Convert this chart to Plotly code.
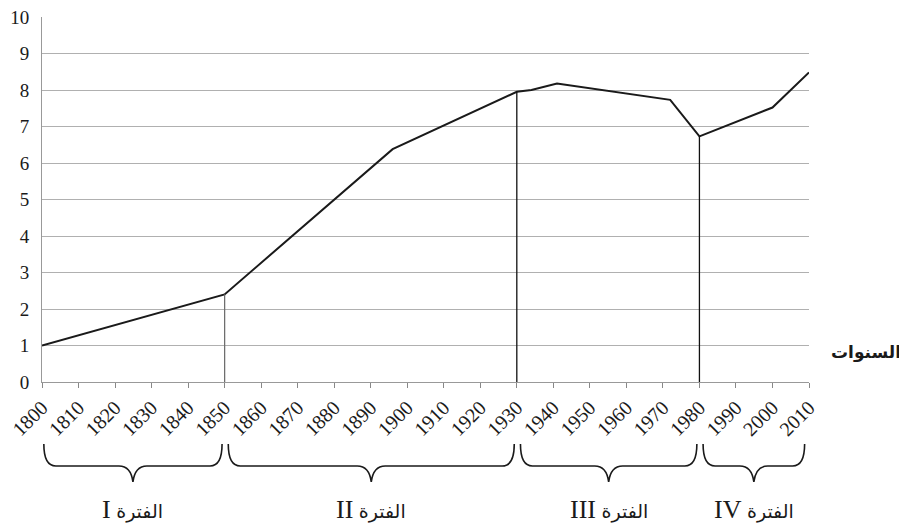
import plotly.graph_objects as go

# ---- data ----
years = [1800, 1850, 1896, 1930, 1934, 1941, 1972, 1980, 2000, 2010]
values = [1.0, 2.4, 6.38, 7.95, 8.0, 8.18, 7.73, 6.73, 7.52, 8.48]

tick_years = list(range(1800, 2011, 10))
tick_labels = [str(y) for y in tick_years]

y_ticks = list(range(0, 11))

boundary_years = [1850, 1930, 1980]
boundary_colors = ["#6e6e6e", "#111111", "#111111"]

periods = [(1800, 1850), (1850, 1930), (1930, 1980), (1980, 2010)]
period_numerals = ["I", "II", "III", "IV"]
period_word = "الفترة"

x_title = "السنوات"

SERIF = "Liberation Serif"

# ---- figure (page body has an 8px margin, so compensate) ----
OFF = 8
W, H = 907 - OFF, 527 - OFF
ml, mr, mt, mb = 42 - OFF, 98, 17 - OFF, 145
plot_w = W - ml - mr
plot_h = H - mt - mb
px_per_year = plot_w / (2010 - 1800)


def py_to_paper(py):
    # py: pixel row in the final screenshot
    return (H - mb - (py - OFF)) / plot_h


def px_to_paper(px):
    return (px - OFF - ml) / plot_w


fig = go.Figure()
fig.add_trace(go.Scatter(x=years, y=values, mode="lines",
                         line=dict(color="#1a1a1a", width=2),
                         showlegend=False, hoverinfo="skip"))

shapes = []
for by, bc in zip(boundary_years, boundary_colors):
    bv = values[years.index(by)]
    shapes.append(dict(type="line", xref="x", yref="y", x0=by, x1=by, y0=0, y1=bv,
                       line=dict(color=bc, width=1.3), layer="above"))

# braces
y_top = py_to_paper(444)
y_h = py_to_paper(466)
y_tip = py_to_paper(482)
annotations = []
for (a, b), num in zip(periods, period_numerals):
    x0 = a + 0.5 if a == 1800 else a + 1.0
    x1 = b - 1.2 if b == 2010 else b - 0.7
    xm = (x0 + x1) / 2
    r = 12 / px_per_year
    c = 14 / px_per_year
    d = 2 / px_per_year
    path = (f"M {x0},{y_top} Q {x0},{y_h} {x0 + r},{y_h} "
            f"L {xm - c},{y_h} Q {xm - d},{y_h} {xm},{y_tip} "
            f"Q {xm + d},{y_h} {xm + c},{y_h} "
            f"L {x1 - r},{y_h} Q {x1},{y_h} {x1},{y_top}")
    shapes.append(dict(type="path", xref="x", yref="paper", path=path,
                       line=dict(color="#1a1a1a", width=1.6)))
    label = (f"<span style='font-family:{SERIF};font-size:26px'>{num}</span> "
             f"<span style='font-family:DejaVu Sans;font-size:19px'>{period_word}</span>")
    annotations.append(dict(x=xm, y=py_to_paper(509), xref="x", yref="paper",
                            text=label, showarrow=False,
                            font=dict(family=SERIF, size=22, color="#1a1a1a"),
                            xanchor="center", yanchor="middle"))

annotations.append(dict(x=px_to_paper(866), y=py_to_paper(352), xref="paper", yref="paper",
                        text=f"<b>{x_title}</b>", showarrow=False,
                        font=dict(family="DejaVu Sans", size=17, color="#1a1a1a"),
                        xanchor="center", yanchor="middle"))

fig.update_layout(
    width=W, height=H,
    margin=dict(l=ml, r=mr, t=mt, b=mb, pad=0, autoexpand=False),
    paper_bgcolor="white", plot_bgcolor="white",
    font=dict(family=SERIF, size=20, color="#1a1a1a"),
    shapes=shapes, annotations=annotations,
    xaxis=dict(range=[1800, 2010], tickmode="array", tickvals=tick_years, ticktext=tick_labels,
               tickangle=-45, ticks="outside", ticklen=5, tickcolor="#888888", tickwidth=1,
               tickfont=dict(family=SERIF, size=20), ticklabeloverflow="allow",
               showline=True, linecolor="#999999", linewidth=1, showgrid=False, zeroline=False,
               automargin=False, fixedrange=True),
    yaxis=dict(range=[0, 10], tickmode="array", tickvals=y_ticks, ticks="outside", ticklen=8,
               tickcolor="rgba(0,0,0,0)", tickfont=dict(family=SERIF, size=19),
               ticklabeloverflow="allow",
               showline=True, linecolor="#999999", linewidth=1,
               showgrid=True, gridcolor="#b0b0b0", gridwidth=1, zeroline=False,
               automargin=False, fixedrange=True),
)

fig.write_html("out.html")
